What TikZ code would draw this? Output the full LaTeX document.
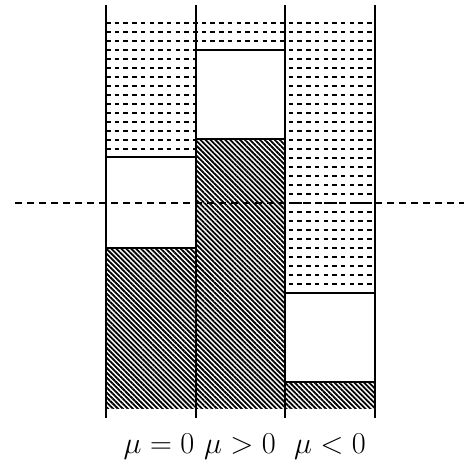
\documentclass[tikz,border=0pt]{standalone}
\usetikzlibrary{patterns.meta}
\begin{document}
\begin{tikzpicture}[
  x=1pt, y=-1pt,
  colline/.style={line width=2.8pt},
  gapbox/.style={draw, line width=2.3pt, fill=white},
  hatched/.style={preaction={fill=white},
    pattern={Lines[angle=-45,distance=3.5pt,line width=1.8pt]}},
  dotrow/.style={line width=2.7pt, dash pattern=on 4.5pt off 4.2pt},
  level/.style={line width=2.6pt, dash pattern=on 7pt off 5pt},
  caption/.style={anchor=base, scale=1.22, font=\fontsize{24.88}{28}\selectfont}
]
\useasboundingbox (0,0) rectangle (464,464);

% dotted rows behind everything
\foreach \y in {23,32,...,287}
  \draw[dotrow] (106,\y) -- (375,\y);

% columns: left/right/top of gap/bottom of gap
\foreach \xl/\xr/\gt/\gb in {106/196/157/248, 196/285/50/139, 285/375/293/382} {
  \path[hatched] (\xl,\gb) rectangle (\xr,408);
  \path[gapbox] (\xl,\gt) rectangle (\xr,\gb);
}

% column walls
\foreach \x in {106,196,285,375}
  \draw[colline] (\x,5) -- (\x,418);

% reference level
\coordinate (levelL) at (15,203);
\coordinate (levelR) at (464,203);
\draw[level] (levelL) -- (levelR);

% labels
\node[caption] (zero) at (159,453) {$\mu=0$};
\node[caption] (pos) at (240,453) {$\mu>0$};
\node[caption] (neg) at (330,453) {$\mu<0$};
\end{tikzpicture}
\end{document}
